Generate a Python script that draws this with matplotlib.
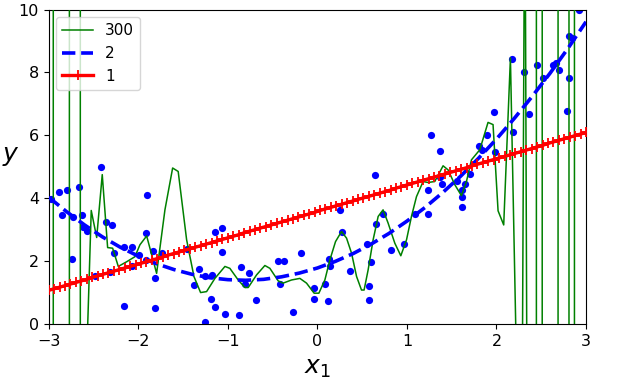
import numpy as np
import matplotlib
matplotlib.use("Agg")
import matplotlib.pyplot as plt

# ---- scatter data ----
X_pts = [-2.97, -2.88, -2.80, -2.66, -2.85, -2.73, -2.63, -2.74, -2.62, -2.57,
         -2.42, -2.36, -2.29, -2.48, -2.31, -2.27, -2.16, -2.07, -2.16, -2.07,
         -1.99, -1.90, -1.91, -1.91, -1.83, -1.81, -1.81, -1.73, -1.46, -1.38,
         -1.32, -1.25, -1.18, -1.19, -1.14, -1.26, -1.14, -1.06, -1.06, -1.03,
         -0.87, -0.85, -0.76, -0.81, -0.68, -0.44, -0.37, -0.42, -0.27, -0.18,
         -0.04, -0.04, 0.08, 0.12, 0.13, 0.14, 0.25, 0.27, 0.36, 0.55,
         0.60, 0.58, 0.58, 0.64, 0.66, 0.73, 0.82, 0.97, 1.09, 1.24,
         1.24, 1.27, 1.37, 1.37, 1.39, 1.56, 1.62, 1.62, 1.62, 1.65,
         1.71, 1.81, 1.84, 1.89, 1.98, 1.97, 2.19, 2.36, 2.79, 2.17,
         2.31, 2.45, 2.52, 2.63, 2.67, 2.70, 2.81, 2.84, 2.81, 2.92]
y_pts = [3.97, 4.19, 4.26, 4.35, 3.48, 3.39, 3.48, 2.08, 3.07, 2.96,
         4.98, 3.24, 3.14, 1.53, 1.65, 2.27, 2.44, 2.44, 0.56, 1.86,
         2.18, 4.10, 2.88, 2.02, 2.31, 1.47, 0.50, 2.27, 2.40, 1.25,
         1.76, 1.54, 1.57, 0.81, 0.53, 0.07, 2.91, 3.06, 2.28, 0.32,
         0.29, 1.82, 1.61, 1.28, 0.77, 2.01, 2.01, 1.28, 0.37, 2.26,
         1.15, 0.80, 1.28, 0.72, 2.07, 1.83, 3.61, 2.91, 1.68, 2.55,
         1.97, 1.21, 0.77, 4.75, 3.19, 3.49, 2.35, 2.54, 3.51, 3.51,
         4.27, 6.01, 5.49, 4.66, 4.46, 4.54, 4.27, 4.05, 3.73, 4.46,
         4.77, 5.65, 5.54, 6.00, 5.47, 6.74, 6.10, 6.69, 6.77, 8.44,
         8.00, 8.24, 7.81, 8.24, 8.30, 8.08, 9.15, 9.10, 7.81, 9.97]

# ---- degree 300 curve (off-range parts drawn as vertical strokes) ----
g300_x = [-3.0, -2.949, -2.949, -2.769, -2.769, -2.647, -2.647, -2.575,
          -2.525, -2.464, -2.402, -2.342, -2.286, -2.223, -2.129, -2.037, -1.981, -1.906,
          -1.795, -1.702, -1.616, -1.554, -1.460, -1.378, -1.304, -1.237, -1.144, -1.032,
          -0.977, -0.884, -0.809, -0.772, -0.679, -0.586, -0.530, -0.437, -0.382, -0.288,
          -0.195, -0.121, -0.036, 0.017, 0.084, 0.140, 0.203, 0.270, 0.326, 0.382,
          0.438, 0.493, 0.522, 0.567, 0.623, 0.679, 0.734, 0.790, 0.865, 0.932,
          0.996, 1.051, 1.107, 1.181, 1.237, 1.311, 1.404, 1.460, 1.535, 1.609,
          1.665, 1.721, 1.814, 1.906, 1.962, 2.018, 2.081, 2.156,
          2.222, 2.290, 2.310, 2.323, 2.339, 2.446, 2.446, 2.511, 2.511,
          2.688, 2.688, 2.810, 2.810, 2.871, 2.871, 3.0]
g300_y = [11, 11, -1, -1, 11, 11, -1, -1,
          3.61, 2.75, 4.75, 2.43, 2.41, 1.83, 1.98, 2.14, 2.52, 2.80,
          1.61, 3.63, 4.96, 4.85, 2.68, 1.51, 1.00, 1.03, 1.45, 1.83,
          1.77, 1.40, 1.16, 1.16, 1.56, 1.86, 1.77, 1.37, 1.30, 1.40,
          1.45, 1.30, 0.98, 0.98, 1.40, 2.04, 2.62, 2.94, 2.73, 2.25,
          1.51, 1.08, 1.08, 1.72, 2.68, 3.42, 3.63, 3.21, 2.57, 2.17,
          2.68, 3.42, 4.05, 4.53, 4.50, 4.53, 5.03, 4.90, 4.43, 4.08,
          4.53, 5.22, 5.54, 6.41, 6.34, 3.60, 3.15, 8.46,
          -1, -1, 11, 11, -1, -1, 11, 11, -1,
          -1, 11, 11, -1, -1, 11, 11]

# ---- degree 2 curve ----
g2_x = [-3.0, -2.8, -2.6, -2.4, -2.2, -2.0, -1.8, -1.6, -1.4, -1.2, -1.0,
        -0.8, -0.6, -0.4, -0.2, 0.0, 0.2, 0.4, 0.6, 0.8, 1.0,
        1.2, 1.4, 1.6, 1.8, 2.0, 2.2, 2.4, 2.6, 2.8, 3.0]
g2_y = [4.03, 3.57, 3.15, 2.77, 2.44, 2.16, 1.92, 1.73, 1.58, 1.47, 1.41,
        1.39, 1.42, 1.50, 1.62, 1.78, 1.99, 2.24, 2.54, 2.88, 3.27,
        3.70, 4.18, 4.70, 5.27, 5.88, 6.54, 7.24, 7.98, 8.77, 9.61]

# ---- degree 1 line (100 sample points, each marked with '+') ----
g1_y = [1.07, 1.12, 1.17, 1.22, 1.27, 1.32, 1.37, 1.42, 1.48, 1.53,
        1.58, 1.63, 1.68, 1.73, 1.78, 1.83, 1.88, 1.93, 1.98, 2.03,
        2.08, 2.13, 2.19, 2.24, 2.29, 2.34, 2.39, 2.44, 2.49, 2.54,
        2.59, 2.64, 2.69, 2.74, 2.79, 2.84, 2.90, 2.95, 3.00, 3.05,
        3.10, 3.15, 3.20, 3.25, 3.30, 3.35, 3.40, 3.45, 3.50, 3.55,
        3.61, 3.66, 3.71, 3.76, 3.81, 3.86, 3.91, 3.96, 4.01, 4.06,
        4.11, 4.16, 4.21, 4.26, 4.32, 4.37, 4.42, 4.47, 4.52, 4.57,
        4.62, 4.67, 4.72, 4.77, 4.82, 4.87, 4.92, 4.97, 5.03, 5.08,
        5.13, 5.18, 5.23, 5.28, 5.33, 5.38, 5.43, 5.48, 5.53, 5.58,
        5.63, 5.68, 5.74, 5.79, 5.84, 5.89, 5.94, 5.99, 6.04, 6.09]
g1_x = np.linspace(-3, 3, len(g1_y))

x_ticks = [-3, -2, -1, 0, 1, 2, 3]
y_ticks = [0, 2, 4, 6, 8, 10]

fig = plt.figure(figsize=(6.37, 3.87), dpi=100)
ax = fig.add_axes([48.7 / 637, 1 - 324 / 387, (586 - 48.7) / 637, (324 - 9.5) / 387])

ax.plot(X_pts, y_pts, 'o', color='b', ms=5.2, mew=0, zorder=2)
ax.plot(g300_x, g300_y, '-', color='g', lw=1.1, label='300', zorder=3)
ax.plot(g2_x, g2_y, '--', color='b', lw=2.6, label='2', zorder=3)
ax.plot(g1_x, g1_y, '-+', color='r', lw=2.4, ms=7, mew=1.3, label='1', zorder=3)

ax.set_xlim(-3, 3)
ax.set_ylim(0, 10)
ax.set_xticks(x_ticks)
ax.set_yticks(y_ticks)
ax.tick_params(labelsize=11.5)
ax.set_xlabel('$x_1$', fontsize=18, labelpad=5)
ax.set_ylabel('$y$', rotation=0, fontsize=18)
ax.yaxis.set_label_coords(-0.07, 0.495)
ax.legend(loc='upper left', fontsize=11, handlelength=2.0)

fig.savefig('out.png', dpi=100)
